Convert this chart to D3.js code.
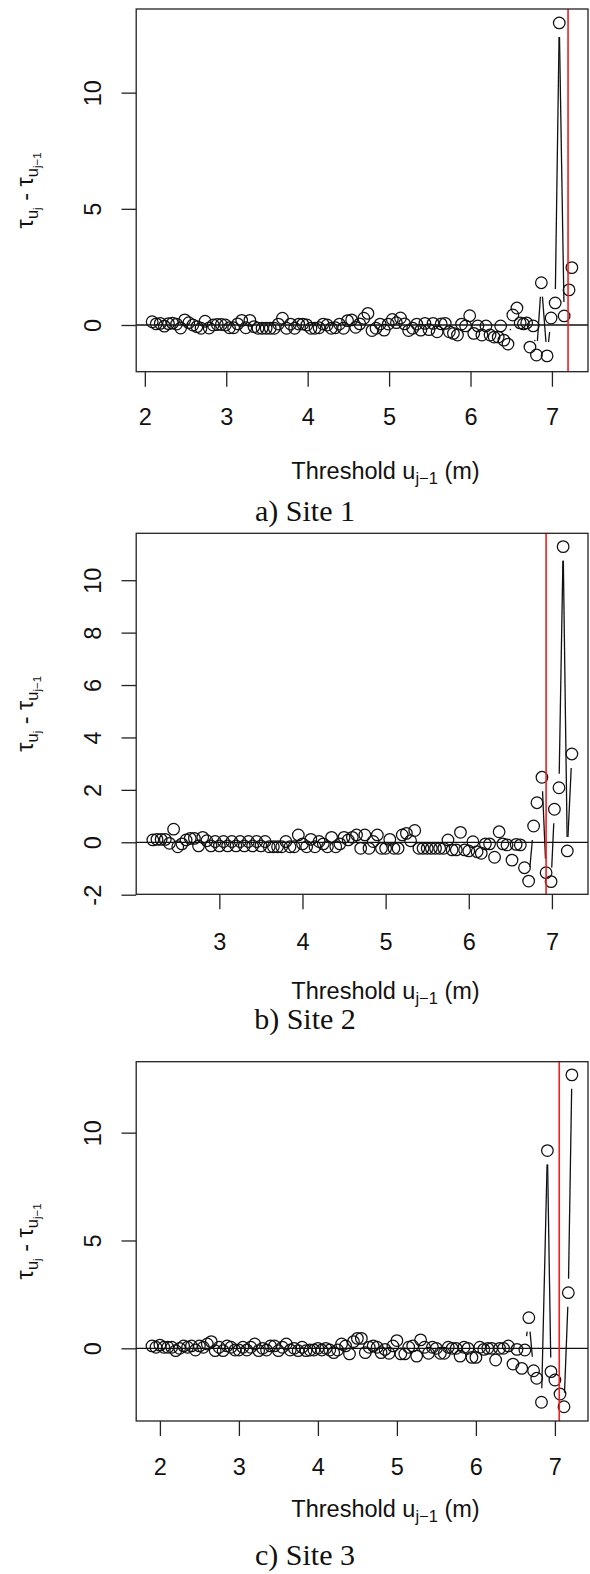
<!DOCTYPE html>
<html>
<head>
<meta charset="utf-8">
<script src="https://cdn.jsdelivr.net/npm/d3@7"></script>
<style>
  body { margin: 0; background: #fff; }
  svg { display: block; }
</style>
</head>
<body>
<div id="figure"></div>
<script>
// ---- data ----
const site1Threshold = [2.09,2.14,2.19,2.24,2.29,2.34,2.39,2.44,2.49,2.54,2.59,2.64,2.69,2.74,2.79,2.84,2.89,2.94,2.99,3.04,
  3.09,3.14,3.19,3.24,3.29,3.34,3.39,3.44,3.49,3.54,3.59,3.64,3.69,3.74,3.79,3.84,3.89,3.94,3.99,4.04,
  4.09,4.14,4.19,4.24,4.29,4.34,4.39,4.44,4.49,4.54,4.59,4.64,4.69,4.74,4.79,4.84,4.89,4.94,4.99,5.04,
  5.09,5.14,5.19,5.24,5.29,5.34,5.39,5.44,5.49,5.54,5.59,5.64,5.69,5.74,5.79,5.84,5.89,5.94,5.99,6.04,
  6.09,6.14,6.19,6.24,6.29,6.34,6.37,6.41,6.46,6.52,6.57,6.61,6.65,6.69,6.73,6.77,6.81,6.87,6.94,6.99,
  7.04,7.09,7.15,7.21,7.245];
const site1Diff = [0.14,0.05,0.07,-0.05,0.06,0.08,0.04,-0.13,0.22,0.10,
  0.00,-0.07,-0.14,0.16,-0.13,0.00,0.02,0.02,0.00,-0.12,
  -0.12,0.05,0.20,-0.12,0.20,-0.07,-0.14,-0.14,-0.14,-0.14,
  -0.14,0.04,0.29,-0.14,0.04,-0.14,0.04,0.04,0.00,-0.14,
  -0.14,-0.12,0.04,0.00,-0.14,-0.12,0.04,-0.14,0.19,0.22,
  -0.10,0.05,0.29,0.50,-0.24,-0.14,0.04,-0.22,0.04,0.24,
  0.10,0.30,0.05,-0.24,-0.14,0.04,-0.22,0.07,-0.20,0.07,
  -0.29,0.05,0.07,-0.29,-0.36,-0.43,0.04,-0.04,0.40,-0.36,
  -0.04,-0.43,-0.04,-0.43,-0.52,-0.52,-0.04,-0.65,-0.82,0.43,
  0.73,0.09,0.05,0.09,-0.95,-0.04,-1.29,1.82,-1.33,0.30,
  0.95,13.0,0.39,1.51,2.47];

const site2Threshold = [2.20,2.25,2.30,2.35,2.40,2.45,2.50,2.55,2.60,2.65,2.70,2.75,2.80,2.85,2.90,2.95,3.00,3.05,3.10,3.15,
  3.20,3.25,3.30,3.35,3.40,3.45,3.50,3.55,3.60,3.65,3.70,3.75,3.80,3.85,3.90,3.95,4.00,4.05,4.10,4.15,
  4.20,4.25,4.30,4.35,4.40,4.45,4.50,4.55,4.60,4.65,4.70,4.75,4.80,4.85,4.90,4.95,5.00,5.05,5.10,5.15,
  5.20,5.25,5.30,5.35,5.40,5.45,5.50,5.55,5.60,5.65,5.70,5.75,5.80,5.85,5.90,5.95,6.00,6.05,6.10,6.15,
  6.20,6.25,6.31,6.365,6.41,6.46,6.52,6.57,6.62,6.67,6.72,6.78,6.82,6.88,6.93,6.99,7.03,7.085,7.135,7.185,
  7.24];
const site2Diff = [0.09,0.11,0.11,0.11,-0.04,0.50,-0.17,-0.06,0.09,0.15,
  0.15,-0.14,0.19,0.06,-0.14,0.03,-0.14,0.03,-0.14,0.03,
  -0.14,0.03,-0.14,0.03,-0.14,0.03,-0.14,0.03,-0.17,-0.17,
  -0.17,-0.17,0.03,-0.17,-0.17,0.28,-0.06,-0.17,0.11,-0.17,
  0.03,-0.06,-0.17,0.19,-0.17,-0.06,0.19,0.09,0.19,0.28,
  -0.23,0.28,-0.23,0.03,0.28,-0.23,-0.23,0.11,-0.23,-0.23,
  0.28,0.34,0.06,0.45,-0.23,-0.23,-0.23,-0.23,-0.23,-0.23,
  -0.23,0.09,-0.29,-0.29,0.38,-0.29,-0.33,0.02,-0.36,-0.42,
  -0.06,-0.06,-0.57,0.40,-0.06,-0.10,-0.68,-0.08,-0.10,-0.97,
  -1.48,0.62,1.51,2.48,-1.16,-1.50,1.26,2.08,11.28,-0.33,
  3.37];

const site3Threshold = [1.90,1.95,2.00,2.05,2.10,2.15,2.20,2.25,2.30,2.35,2.40,2.45,2.50,2.55,2.60,2.65,2.70,2.75,2.80,2.85,
  2.90,2.95,3.00,3.05,3.10,3.15,3.20,3.25,3.30,3.35,3.40,3.45,3.50,3.55,3.60,3.65,3.70,3.75,3.80,3.85,
  3.90,3.95,4.00,4.05,4.10,4.15,4.20,4.25,4.30,4.35,4.40,4.45,4.50,4.55,4.60,4.65,4.70,4.75,4.80,4.85,
  4.90,4.95,5.00,5.05,5.10,5.15,5.20,5.25,5.30,5.35,5.40,5.45,5.50,5.55,5.60,5.65,5.70,5.75,5.80,5.85,
  5.90,5.95,6.00,6.05,6.10,6.15,6.20,6.25,6.30,6.35,6.41,6.47,6.52,6.58,6.62,6.67,6.73,6.77,6.83,6.905,
  6.95,7.00,7.065,7.115,7.17,7.215];
const site3Diff = [0.11,0.05,0.15,0.05,0.05,0.05,-0.11,0.00,0.11,0.05,
  0.11,-0.08,0.11,0.05,0.20,0.31,-0.11,0.05,-0.11,0.11,
  0.05,-0.08,-0.08,0.05,-0.08,0.05,0.20,-0.11,0.00,-0.08,
  0.11,0.11,-0.11,0.05,0.20,-0.08,0.00,-0.11,0.05,-0.11,
  -0.08,-0.08,0.00,-0.08,0.00,-0.08,-0.20,-0.08,0.20,0.11,
  -0.26,0.31,0.46,0.46,-0.20,0.05,0.11,0.05,-0.20,-0.05,
  -0.23,0.11,0.36,-0.26,-0.26,0.05,0.11,-0.36,0.39,0.05,
  -0.23,0.05,0.00,-0.23,-0.23,0.05,0.00,0.00,-0.36,0.05,
  0.00,-0.42,-0.42,0.05,-0.05,0.00,0.00,-0.54,0.00,0.00,
  0.11,-0.73,-0.05,-0.93,-0.08,1.42,-1.04,-1.39,-2.50,9.17,
  -1.08,-1.47,-2.12,-2.71,2.58,12.68];

const site1XTicks = [2, 3, 4, 5, 6, 7];
const site2XTicks = [3, 4, 5, 6, 7];
const site3XTicks = [2, 3, 4, 5, 6, 7];
const site1YTicks = [0, 5, 10];
const site2YTicks = [-2, 0, 2, 4, 6, 8, 10];
const site3YTicks = [0, 5, 10];

// plotting region limits (axis "usr" ranges)
const site1XLimits = [1.894, 7.443], site1YLimits = [-2.01, 13.60];
const site2XLimits = [2.000, 7.434], site2YLimits = [-1.985, 11.79];
const site3XLimits = [1.700, 7.419], site3YLimits = [-3.37, 13.29];

const selectedThreshold = [7.198, 6.93, 7.055];
const captions = ["a) Site 1", "b) Site 2", "c) Site 3"];

// ---- layout ----
const width = 590, height = 1574;
const boxLeft = 136.2, boxRight = 588;
const sansFont = "'Liberation Sans', Arial, Helvetica, sans-serif";
const serifFont = "'Liberation Serif', 'Times New Roman', serif";
const fontSize = 23.5;
const gap = 14; // type="b" gap round each point

const panels = [
  { x: site1Threshold, y: site1Diff, xLim: site1XLimits, yLim: site1YLimits, xTicks: site1XTicks, yTicks: site1YTicks,
    cut: selectedThreshold[0], caption: captions[0], top: 9, bottom: 371.7, tickLab: 425, xLab: 479, cap: 521 },
  { x: site2Threshold, y: site2Diff, xLim: site2XLimits, yLim: site2YLimits, xTicks: site2XTicks, yTicks: site2YTicks,
    cut: selectedThreshold[1], caption: captions[1], top: 533.3, bottom: 894.3, tickLab: 950, xLab: 999, cap: 1029 },
  { x: site3Threshold, y: site3Diff, xLim: site3XLimits, yLim: site3YLimits, xTicks: site3XTicks, yTicks: site3YTicks,
    cut: selectedThreshold[2], caption: captions[2], top: 1061.7, bottom: 1421, tickLab: 1475, xLab: 1517, cap: 1565 }
];

const svg = d3.select("#figure")
  .append("svg")
  .attr("width", width)
  .attr("height", height)
  .attr("viewBox", [0, 0, width, height]);

svg.append("rect").attr("width", width).attr("height", height).attr("fill", "#fff");

panels.forEach((p) => {
  const xScale = d3.scaleLinear().domain(p.xLim).range([boxLeft, boxRight]);
  const yScale = d3.scaleLinear().domain(p.yLim).range([p.bottom, p.top]);
  const g = svg.append("g");
  const midY = (p.top + p.bottom) / 2;

  const pts = p.x.map((v, i) => [xScale(v), yScale(p.y[i])]);

  // connecting segments, broken round each point like R's type = "b"
  const segs = [];
  for (let i = 1; i < pts.length; i++) {
    const [x1, y1] = pts[i - 1], [x2, y2] = pts[i];
    const len = Math.hypot(x2 - x1, y2 - y1);
    if (len > 2 * gap) {
      const ux = (x2 - x1) / len, uy = (y2 - y1) / len;
      segs.push([x1 + ux * gap, y1 + uy * gap, x2 - ux * gap, y2 - uy * gap]);
    }
  }
  g.append("g")
    .selectAll("line")
    .data(segs)
    .join("line")
    .attr("x1", (d) => d[0]).attr("y1", (d) => d[1])
    .attr("x2", (d) => d[2]).attr("y2", (d) => d[3])
    .attr("stroke", "#111")
    .attr("stroke-width", 1.3);

  // zero line
  g.append("line")
    .attr("x1", boxLeft).attr("x2", boxRight)
    .attr("y1", yScale(0)).attr("y2", yScale(0))
    .attr("stroke", "#111")
    .attr("stroke-width", 1.3);

  // points
  g.append("g")
    .selectAll("circle")
    .data(pts)
    .join("circle")
    .attr("cx", (d) => d[0])
    .attr("cy", (d) => d[1])
    .attr("r", 5.8)
    .attr("fill", "none")
    .attr("stroke", "#111")
    .attr("stroke-width", 1.25);

  // selected threshold
  g.append("line")
    .attr("x1", xScale(p.cut)).attr("x2", xScale(p.cut))
    .attr("y1", p.top).attr("y2", p.bottom)
    .attr("stroke", "#f01e1e")
    .attr("stroke-width", 1.6);

  // box
  g.append("rect")
    .attr("x", boxLeft).attr("y", p.top)
    .attr("width", boxRight - boxLeft).attr("height", p.bottom - p.top)
    .attr("fill", "none")
    .attr("stroke", "#222")
    .attr("stroke-width", 1.3);

  // x axis
  const xAxis = g.append("g")
    .attr("transform", `translate(0,${p.bottom})`)
    .call(d3.axisBottom(xScale).tickValues(p.xTicks).tickSize(15).tickPadding(0).tickFormat((d) => String(d)));
  xAxis.select(".domain").remove();
  xAxis.selectAll(".tick line").attr("stroke", "#222").attr("stroke-width", 1.3);
  xAxis.selectAll(".tick text")
    .attr("y", p.tickLab - p.bottom)
    .attr("dy", null)
    .attr("fill", "#111")
    .style("font-family", sansFont)
    .style("font-size", fontSize + "px");

  // y axis
  const yAxis = g.append("g")
    .attr("transform", `translate(${boxLeft},0)`)
    .call(d3.axisLeft(yScale).tickValues(p.yTicks).tickSize(14.7).tickPadding(0).tickFormat((d) => String(d)));
  yAxis.select(".domain").remove();
  yAxis.selectAll(".tick line").attr("stroke", "#222").attr("stroke-width", 1.3);
  yAxis.selectAll(".tick text")
    .attr("x", null).attr("dy", null)
    .attr("transform", `translate(${100.5 - boxLeft},0) rotate(-90)`)
    .attr("text-anchor", "middle")
    .attr("fill", "#111")
    .style("font-family", sansFont)
    .style("font-size", fontSize + "px");

  // y axis title: tau_{u_j} - tau_{u_{j-1}}
  const yt = g.append("text")
    .attr("transform", `translate(33,${midY}) rotate(-90)`)
    .attr("text-anchor", "middle")
    .attr("fill", "#111")
    .style("font-family", sansFont)
    .style("font-size", fontSize + "px");
  yt.append("tspan").text("\u03C4");
  yt.append("tspan").attr("dy", 5).style("font-size", "16.5px").text("u");
  yt.append("tspan").attr("dy", 3).style("font-size", "11.5px").text("j");
  yt.append("tspan").attr("dy", -8).text(" - \u03C4");
  yt.append("tspan").attr("dy", 5).style("font-size", "16.5px").text("u");
  yt.append("tspan").attr("dy", 3).style("font-size", "11.5px").text("j\u22121");

  // x axis title
  const xt = g.append("text")
    .attr("x", 385.5)
    .attr("y", p.xLab)
    .attr("text-anchor", "middle")
    .attr("fill", "#111")
    .style("font-family", sansFont)
    .style("font-size", fontSize + "px");
  xt.append("tspan").text("Threshold u");
  xt.append("tspan").attr("dy", 5).style("font-size", "16.5px").text("j\u22121");
  xt.append("tspan").attr("dy", -5).text(" (m)");

  // caption
  g.append("text")
    .attr("x", 305)
    .attr("y", p.cap)
    .attr("text-anchor", "middle")
    .attr("fill", "#111")
    .style("font-family", serifFont)
    .style("font-size", "30px")
    .text(p.caption);
});
</script>
</body>
</html>
